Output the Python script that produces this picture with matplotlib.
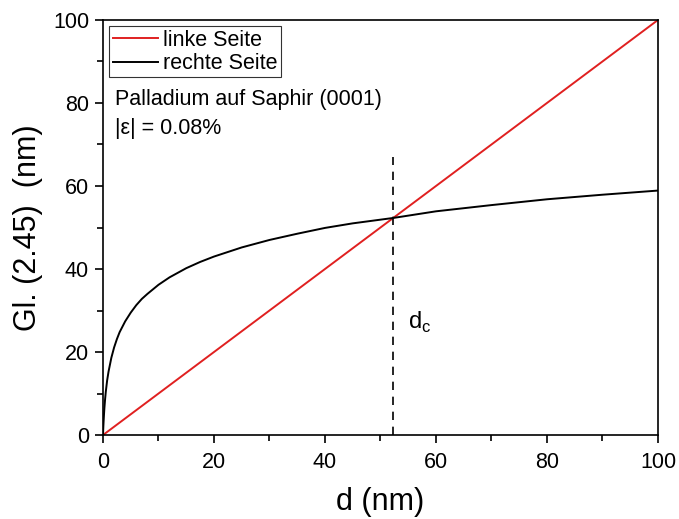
import matplotlib
matplotlib.use("Agg")
import matplotlib.pyplot as plt

plt.rcParams['font.family'] = ['Liberation Sans', 'DejaVu Sans']

# linke Seite: Gerade d
d_left = [0, 100]
left_side = [0, 100]

d_right = [0, 0.02, 0.05, 0.1, 0.175, 0.25, 0.375, 0.5, 0.75, 1, 1.5, 2, 2.5, 3,
           4, 5, 6, 7, 8, 10, 12, 15, 17.5, 20, 25, 30, 35, 40, 45, 52.3, 60,
           70, 80, 90, 100]
right_side = [0, 0.7, 1.7, 3.1, 4.9, 6.5, 8.6, 10.4, 13.2, 15.3, 18.6, 21.1,
              23.1, 24.8, 27.4, 29.5, 31.3, 32.8, 34.0, 36.2, 38.0, 40.2, 41.7,
              43.0, 45.2, 47.0, 48.5, 49.9, 51.0, 52.3, 53.9, 55.4, 56.8, 57.9,
              58.9]

d_c = 52.3
d_c_top = 67

fig = plt.figure(figsize=(6.79, 5.19), dpi=100)
ax = fig.add_axes([0.1517, 0.1618, 0.8173, 0.7997])

ax.plot(d_left, left_side, color='#e02020', lw=1.4, label='linke Seite')
ax.plot(d_right, right_side, color='black', lw=1.4, label='rechte Seite')
ax.plot([d_c, d_c], [0, d_c_top], color='black', lw=1.2, ls=(0, (5, 4)))

ax.set_xlim(0, 100)
ax.set_ylim(0, 100)
ax.set_xticks([0, 20, 40, 60, 80, 100])
ax.set_yticks([0, 20, 40, 60, 80, 100])
ax.set_xticks([10, 30, 50, 70, 90], minor=True)
ax.set_yticks([10, 30, 50, 70, 90], minor=True)
ax.tick_params(which='major', direction='out', length=6, width=1.2,
               labelsize=15.5)
ax.tick_params(axis='x', which='major', pad=6)
ax.tick_params(axis='y', which='major', pad=4)
ax.tick_params(which='minor', direction='out', length=4, width=1.2)
for s in ax.spines.values():
    s.set_linewidth(1.2)

ax.set_xlabel('d (nm)', fontsize=22, labelpad=10)
ax.set_ylabel('Gl. (2.45)  (nm)', fontsize=22, labelpad=7)

leg = ax.legend(loc='upper left', fontsize=15.5, frameon=True, fancybox=False,
                edgecolor='black', borderpad=0.15, handlelength=2.1,
                handletextpad=0.25, labelspacing=0.12, borderaxespad=0.3)
leg.get_frame().set_linewidth(0.8)

ax.text(2.2, 79.5, 'Palladium auf Saphir (0001)', fontsize=15.5)
ax.text(2.2, 72.5, '|ε| = 0.08%', fontsize=15.5)
ax.text(55, 25.5, r'd$_\mathregular{c}$', fontsize=17)

fig.savefig('out.png', dpi=100)
